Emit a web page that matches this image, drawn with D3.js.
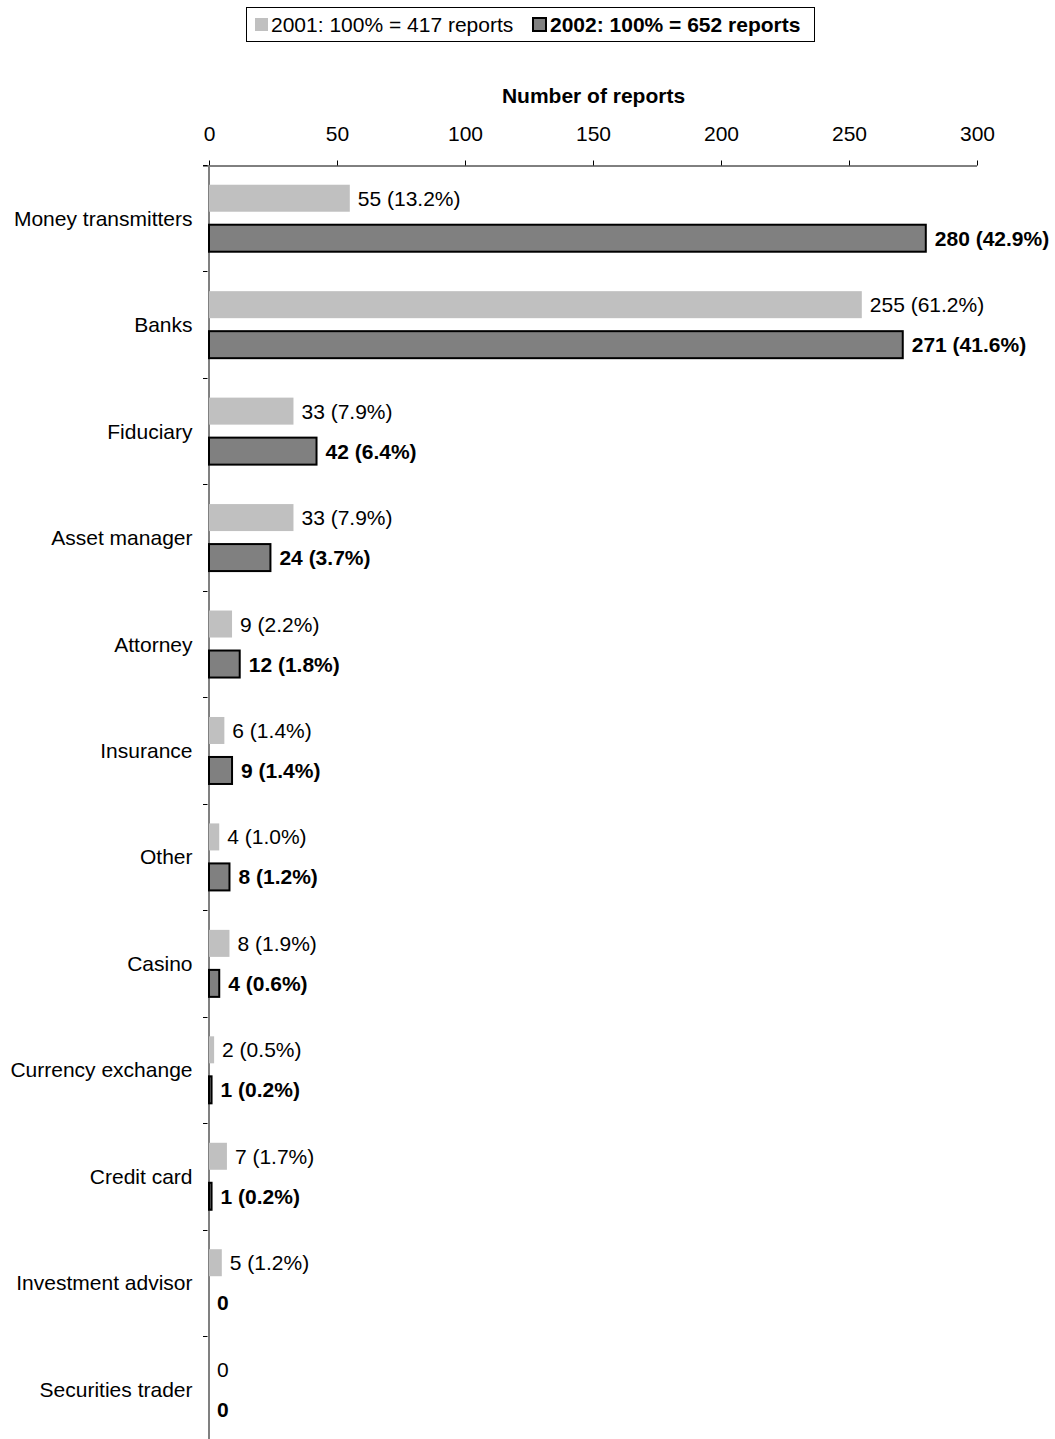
<!DOCTYPE html>
<html>
<head>
<meta charset="utf-8">
<script src="https://cdn.jsdelivr.net/npm/d3@7"></script>
<style>
  body { margin: 0; background: #fff; }
  svg { display: block; font-family: Arial, "Liberation Sans", sans-serif; }
</style>
</head>
<body>
<svg id="chart" width="1055" height="1439"></svg>
<script>
const categories = ["Money transmitters","Banks","Fiduciary","Asset manager","Attorney","Insurance","Other","Casino","Currency exchange","Credit card","Investment advisor","Securities trader"];
const values2001 = [55,255,33,33,9,6,4,8,2,7,5,0];
const pct2001 = ["13.2%","61.2%","7.9%","7.9%","2.2%","1.4%","1.0%","1.9%","0.5%","1.7%","1.2%",""];
const values2002 = [280,271,42,24,12,9,8,4,1,1,0,0];
const pct2002 = ["42.9%","41.6%","6.4%","3.7%","1.8%","1.4%","1.2%","0.6%","0.2%","0.2%","",""];
const xTicks = [0,50,100,150,200,250,300];
const seriesNames = ["2001","2002"];
const legendLabels = ["2001: 100% = 417 reports","2002: 100% = 652 reports"];
const axisTitle = "Number of reports";

const svg = d3.select("#chart");
const x = d3.scaleLinear().domain([0,300]).range([209,977]);
const y = d3.scaleBand().domain(categories).range([165,165+12*106.45]).padding(0);
const sub = d3.scaleBand().domain(seriesNames).range([0,y.bandwidth()]).paddingInner(0.325).paddingOuter(0.493);

// top axis
const topAxis = d3.axisTop(x).tickValues(xTicks).tickSize(5).tickSizeOuter(0).tickPadding(20);
const gx = svg.append("g").attr("transform","translate(0,165.5)").call(topAxis);
gx.select(".domain").attr("d", `M203,0.5H${x(300)}`).attr("stroke","#000");
gx.selectAll(".tick line").attr("stroke","#000");
gx.selectAll(".tick text").attr("font-size",21).attr("font-family","Arial, 'Liberation Sans', sans-serif").attr("fill","#000").attr("dy","0");

svg.append("text").attr("x",593.5).attr("y",103).attr("text-anchor","middle")
  .attr("font-size",21).attr("font-weight","bold").text(axisTitle);

// left axis (drawn beneath bars)
const leftAxis = d3.axisLeft(y).tickSize(0).tickPadding(16);
const gy = svg.append("g").attr("transform",`translate(${x(0)-0.5},0)`).call(leftAxis);
gy.select(".domain").attr("stroke","#808080").attr("stroke-width",2);
gy.selectAll(".tick text").attr("font-size",21).attr("font-family","Arial, 'Liberation Sans', sans-serif").attr("fill","#000").attr("dy","0.36em");
const bounds = categories.map(c=>y(c)).concat([y.range()[1]]);
svg.append("g").selectAll("line").data(bounds).join("line")
  .attr("x1",203).attr("x2",x(0)-1.5).attr("y1",d=>Math.round(d)+0.5).attr("y2",d=>Math.round(d)+0.5)
  .attr("stroke","#000");

// data
const rows = categories.map((c,i)=>({c, v1:values2001[i], p1:pct2001[i], v2:values2002[i], p2:pct2002[i]}));

// 2001 bars
svg.append("g").selectAll("rect").data(rows).join("rect")
  .attr("x",x(0)).attr("y",d=>y(d.c)+sub("2001"))
  .attr("width",d=>x(d.v1)-x(0)).attr("height",sub.bandwidth())
  .attr("fill","#c0c0c0");

// 2002 bars
svg.append("g").selectAll("rect").data(rows.filter(d=>d.v2>0)).join("rect")
  .attr("x",x(0)).attr("y",d=>y(d.c)+sub("2002"))
  .attr("width",d=>x(d.v2)-x(0)).attr("height",sub.bandwidth())
  .attr("fill","#808080").attr("stroke","#000").attr("stroke-width",2);

// labels
svg.append("g").selectAll("text").data(rows).join("text")
  .attr("x",d=>x(d.v1)+8).attr("y",d=>y(d.c)+sub("2001")+sub.bandwidth()/2)
  .attr("dy","0.36em").attr("font-size",21)
  .text(d=>d.p1 ? `${d.v1} (${d.p1})` : `${d.v1}`);
svg.append("g").selectAll("text").data(rows).join("text")
  .attr("x",d=>x(d.v2)+(d.v2>0?9:8)).attr("y",d=>y(d.c)+sub("2002")+sub.bandwidth()/2)
  .attr("dy","0.36em").attr("font-size",21).attr("font-weight","bold")
  .text(d=>d.p2 ? `${d.v2} (${d.p2})` : `${d.v2}`);

// legend
const lg = svg.append("g");
lg.append("rect").attr("x",246.5).attr("y",7.5).attr("width",568).attr("height",34).attr("fill","#fff").attr("stroke","#000");
lg.append("rect").attr("x",255).attr("y",18).attr("width",13).attr("height",13).attr("fill","#c0c0c0");
lg.append("text").attr("x",271).attr("y",32).attr("font-size",21).text(legendLabels[0]);
lg.append("rect").attr("x",533).attr("y",18).attr("width",13).attr("height",13).attr("fill","#808080").attr("stroke","#000").attr("stroke-width",2);
lg.append("text").attr("x",550).attr("y",32).attr("font-size",21).attr("font-weight","bold").text(legendLabels[1]);
</script>
</body>
</html>
